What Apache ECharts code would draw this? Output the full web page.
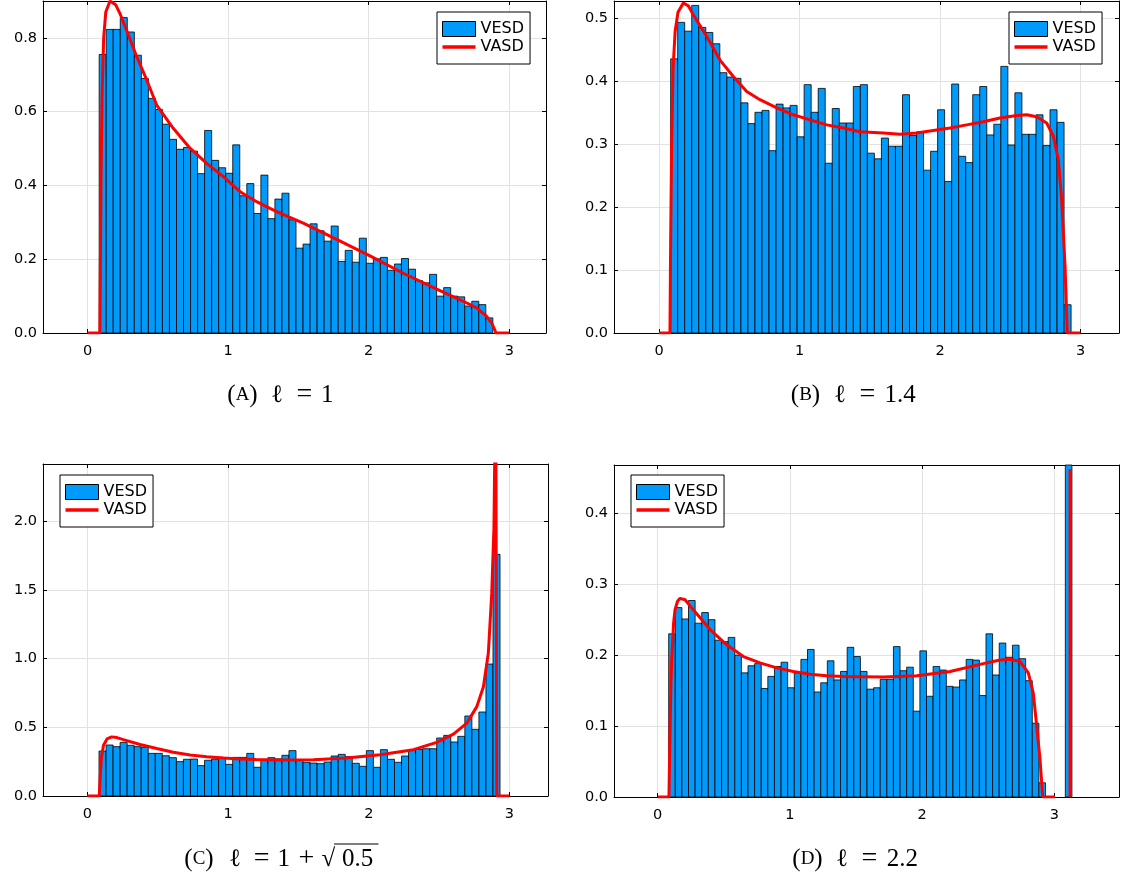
<!DOCTYPE html>
<html><head><meta charset="utf-8">
<script src="https://cdn.jsdelivr.net/npm/echarts@6/dist/echarts.min.js"></script>
<style>html,body{margin:0;padding:0;background:#fff}#c{width:1123px;height:878px}</style>
</head><body><div id="c"></div>
<script>
// ---- data ----
const binStart = 0.083, binWidth = 0.05;
const vesdA = [0.755,0.823,0.823,0.855,0.816,0.753,0.690,0.636,0.606,0.566,
  0.525,0.498,0.503,0.493,0.432,0.549,0.468,0.448,0.433,0.510,
  0.372,0.405,0.324,0.428,0.310,0.363,0.379,0.307,0.230,0.241,
  0.296,0.277,0.249,0.290,0.194,0.224,0.192,0.257,0.189,0.201,
  0.205,0.170,0.187,0.202,0.173,0.142,0.136,0.159,0.100,0.123,
  0.100,0.098,0.073,0.086,0.077,0.041];
const vesdB = [0.436,0.494,0.480,0.521,0.486,0.478,0.460,0.414,0.407,0.405,
  0.366,0.333,0.351,0.354,0.290,0.364,0.358,0.362,0.312,0.395,
  0.351,0.389,0.270,0.357,0.334,0.334,0.392,0.395,0.286,0.277,
  0.310,0.297,0.297,0.379,0.314,0.320,0.259,0.289,0.355,0.241,
  0.396,0.281,0.271,0.379,0.392,0.315,0.332,0.424,0.299,0.382,
  0.316,0.316,0.347,0.298,0.355,0.335,0.045];
const vesdC = [0.327,0.371,0.359,0.390,0.369,0.359,0.354,0.310,0.310,0.293,
  0.279,0.250,0.267,0.269,0.221,0.260,0.269,0.281,0.230,0.281,
  0.281,0.310,0.209,0.262,0.279,0.270,0.296,0.330,0.264,0.245,
  0.240,0.235,0.247,0.291,0.303,0.286,0.238,0.216,0.330,0.209,
  0.337,0.267,0.245,0.291,0.337,0.339,0.344,0.344,0.422,0.441,
  0.393,0.434,0.582,0.485,0.611,0.960,1.758];
const vesdD = [0.230,0.267,0.251,0.277,0.245,0.260,0.250,0.221,0.219,0.225,
  0.200,0.175,0.185,0.188,0.153,0.170,0.184,0.190,0.154,0.175,
  0.194,0.208,0.148,0.161,0.192,0.165,0.177,0.211,0.198,0.177,
  0.152,0.154,0.166,0.166,0.212,0.178,0.183,0.121,0.206,0.142,
  0.184,0.179,0.156,0.155,0.165,0.194,0.193,0.143,0.230,0.172,
  0.217,0.197,0.214,0.195,0.164,0.104,0.020,0,0,0,1.0];

const vasdA = [[0,0],[0.088,0],[0.092,0.2],[0.097,0.45],[0.104,0.65],[0.115,0.8],[0.13,0.87],[0.16,0.9],[0.2,0.89],
  [0.231,0.866],[0.283,0.816],[0.35,0.749],[0.421,0.686],[0.492,0.618],[0.61,0.555],[0.729,0.501],[0.848,0.46],
  [0.966,0.424],[1.085,0.383],[1.203,0.356],[1.298,0.338],[1.369,0.325],[1.535,0.298],[1.772,0.254],[2.009,0.209],
  [2.246,0.162],[2.484,0.119],[2.673,0.086],[2.768,0.068],[2.839,0.045],[2.875,0.027],[2.895,0.01],[2.905,0],[3.0,0]];
const vasdB = [[0,0],[0.078,0],[0.083,0.15],[0.09,0.3],[0.1,0.42],[0.115,0.48],[0.135,0.51],[0.173,0.525],[0.21,0.52],
  [0.244,0.506],[0.339,0.472],[0.434,0.434],[0.529,0.408],[0.624,0.384],[0.719,0.371],[0.838,0.358],[0.956,0.347],
  [1.075,0.339],[1.194,0.331],[1.312,0.326],[1.431,0.320],[1.597,0.318],[1.715,0.316],[1.834,0.318],[1.952,0.322],
  [2.071,0.326],[2.19,0.331],[2.308,0.336],[2.427,0.342],[2.546,0.346],[2.617,0.347],[2.688,0.344],[2.759,0.334],
  [2.807,0.313],[2.842,0.276],[2.866,0.212],[2.89,0.106],[2.906,0],[3.0,0]];
const vasdC = [[0,0],[0.085,0],[0.092,0.15],[0.1,0.28],[0.115,0.37],[0.14,0.415],[0.173,0.43],[0.21,0.425],[0.256,0.41],
  [0.375,0.375],[0.493,0.345],[0.611,0.318],[0.73,0.298],[0.849,0.285],[0.967,0.276],[1.085,0.27],[1.2,0.265],
  [1.322,0.262],[1.45,0.261],[1.606,0.263],[1.843,0.276],[2.08,0.3],[2.318,0.337],[2.483,0.39],[2.602,0.45],
  [2.697,0.53],[2.768,0.65],[2.815,0.795],[2.85,1.04],[2.874,1.47],[2.89,1.96],[2.897,2.6],[2.9,4],[2.905,4],[2.91,0],[3.0,0]];
const vasdD = [[0,0],[0.085,0],[0.092,0.08],[0.1,0.16],[0.106,0.193],[0.12,0.245],[0.131,0.264],[0.15,0.276],[0.169,0.280],
  [0.207,0.278],[0.269,0.264],[0.396,0.236],[0.522,0.2145],[0.648,0.198],[0.774,0.189],[0.9,0.182],[1.026,0.177],
  [1.152,0.173],[1.278,0.171],[1.404,0.170],[1.707,0.169],[1.959,0.171],[2.211,0.177],[2.463,0.188],[2.589,0.193],
  [2.665,0.194],[2.741,0.191],[2.803,0.175],[2.841,0.146],[2.867,0.099],[2.892,0.0525],[2.912,0],[3.005,0]];
const vasdDAtom = [[3.119,0],[3.119,0.462]];

const xRanges = [[-0.3165,3.261],[-0.3203,3.274],[-0.315,3.274],[-0.3306,3.489]];
const yMax = [0.9,0.528,2.415,0.468];
const yStep = [0.2,0.1,0.5,0.1];
const captions = [
  {sc:'A', rest:[['ℓ',277],['=',304.5],['1',327.2]], cx:242.5, y:395},
  {sc:'B', rest:[['ℓ',840],['=',867.5],['1.4',900]], cx:805.5, y:395},
  {sc:'C', rest:[['ℓ',235],['=',261.7],['1',283.8],['+',306.3],['√',328.3],['0.5',357.5]], cx:199, y:859},
  {sc:'D', rest:[['ℓ',842],['=',869.5],['2.2',902.3]], cx:807.5, y:859}
];
// ---- layout ----
const grids = [
  {left:43, top:1, width:503, height:332},
  {left:614, top:1, width:505, height:332},
  {left:43, top:464, width:505, height:332},
  {left:614, top:465, width:505, height:332}
];
const legendPos = [[437,12],[1009,12],[60,475],[631,475]];
const FF = 'DejaVu Sans';
const BLUE = '#009afa', RED = '#ff0000';

function bins(vals){ return vals.map((v,i)=>[binStart+i*binWidth, binStart+(i+1)*binWidth, v]); }

function renderBar(params, api){
  const h = api.value(2);
  if (!(h > 0)) return null;
  const tl = api.coord([api.value(0), h]);
  const br = api.coord([api.value(1), 0]);
  const cs = params.coordSys;
  const shape = echarts.graphic.clipRectByRect(
    {x:tl[0], y:tl[1], width:br[0]-tl[0], height:br[1]-tl[1]},
    {x:cs.x, y:cs.y, width:cs.width, height:cs.height});
  if (!shape) return null;
  return {type:'rect', shape, style:{fill:BLUE, stroke:'#000', lineWidth:0.8}};
}

const xAxis = [], yAxis = [], series = [], legend = [];
const lineCol = '#000';
[vesdA, vesdB, vesdC, vesdD].forEach((vals, g) => {
  const [mn, mx] = xRanges[g];
  xAxis.push({type:'value', gridIndex:g, min:mn, max:mx, minInterval:1, maxInterval:1, position:'bottom',
    axisLine:{show:true, onZero:false, lineStyle:{color:lineCol, width:1}},
    axisTick:{show:true, inside:true, length:4, lineStyle:{color:lineCol}},
    axisLabel:{show:true, showMinLabel:false, showMaxLabel:false, margin:11, fontFamily:FF, fontSize:14.5, color:'#000'},
    splitLine:{show:true, lineStyle:{color:'#e2e2e2', width:1}}});
  xAxis.push({type:'value', gridIndex:g, min:mn, max:mx, minInterval:1, maxInterval:1, position:'top',
    axisLine:{show:true, onZero:false, lineStyle:{color:lineCol, width:1}},
    axisTick:{show:true, inside:true, length:4, lineStyle:{color:lineCol}},
    axisLabel:{show:false}, splitLine:{show:false}});
  yAxis.push({type:'value', gridIndex:g, min:0, max:yMax[g], interval:yStep[g], position:'left',
    axisLine:{show:true, onZero:false, lineStyle:{color:lineCol, width:1}},
    axisTick:{show:true, inside:true, length:4, lineStyle:{color:lineCol}},
    axisLabel:{show:true, showMaxLabel:false, margin:6, fontFamily:FF, fontSize:14.5, color:'#000', formatter:v=>v.toFixed(1)},
    splitLine:{show:true, lineStyle:{color:'#e2e2e2', width:1}}});
  yAxis.push({type:'value', gridIndex:g, min:0, max:yMax[g], interval:yStep[g], position:'right',
    axisLine:{show:true, onZero:false, lineStyle:{color:lineCol, width:1}},
    axisTick:{show:true, inside:true, length:4, lineStyle:{color:lineCol}},
    axisLabel:{show:false}, splitLine:{show:false}});
  series.push({type:'custom', name:'VESD', xAxisIndex:2*g, yAxisIndex:2*g, renderItem:renderBar,
    encode:{x:[0,1], y:2}, data:bins(vals), itemStyle:{color:BLUE}, z:2});
  legend.push({left:legendPos[g][0], top:legendPos[g][1], orient:'vertical', selectedMode:false,
    backgroundColor:'#fff', borderColor:'#000', borderWidth:1, borderRadius:0,
    padding:[9,6,9,5], itemGap:2, itemWidth:33, itemHeight:15,
    textStyle:{fontFamily:FF, fontSize:16, color:'#000'},
    data:[{name:'VESD', icon:'rect', itemStyle:{color:BLUE, borderColor:'#000', borderWidth:1}},
          {name:'VASD', icon:'path://M0,0H33V3.4H0Z', symbolKeepAspect:true, itemStyle:{color:RED, borderWidth:0}, lineStyle:{width:0, opacity:0}}]});
});
[vasdA, vasdB, vasdC, vasdD].forEach((pts, g) => {
  series.push({type:'line', name:'VASD', xAxisIndex:2*g, yAxisIndex:2*g, data:pts, showSymbol:false, symbol:'none',
    clip:true, lineStyle:{color:RED, width:3}, itemStyle:{color:RED}, z:3});
});
series.push({type:'line', name:'VASD', xAxisIndex:6, yAxisIndex:6, data:vasdDAtom, showSymbol:false, symbol:'none',
  clip:true, lineStyle:{color:RED, width:3}, itemStyle:{color:RED}, z:3});

// ---- captions ----
const SERIF = '"Liberation Serif", "DejaVu Serif", serif';
function txt(t, x, y, size){
  return {type:'text', x, y, z:10, style:{text:t, font:size+'px '+SERIF, fill:'#000', textAlign:'center', align:'center',
    textVerticalAlign:'middle', verticalAlign:'middle'}};
}
const graphic = [];
captions.forEach(c => {
  graphic.push({type:'text', x:c.cx, y:c.y, z:10, style:{text:'{p|(}{s|'+c.sc+'}{p|)}', textAlign:'center', align:'center',
    textVerticalAlign:'middle', verticalAlign:'middle',
    rich:{p:{fontFamily:SERIF, fontSize:25, fill:'#000', color:'#000'}, s:{fontFamily:SERIF, fontSize:19, fill:'#000', color:'#000'}}}});
  c.rest.forEach(r => graphic.push(txt(r[0], r[1], c.y, r[0]==='=' || r[0]==='+' ? 28 : 25)));
});
graphic.push({type:'line', z:10, shape:{x1:334, y1:844, x2:378.5, y2:844}, style:{stroke:'#000', lineWidth:1}});

const chart = echarts.init(document.getElementById('c'), null, {renderer:'canvas'});
chart.setOption({animation:false, backgroundColor:'#fff', grid:grids, xAxis, yAxis, series, legend, graphic});
</script></body></html>
